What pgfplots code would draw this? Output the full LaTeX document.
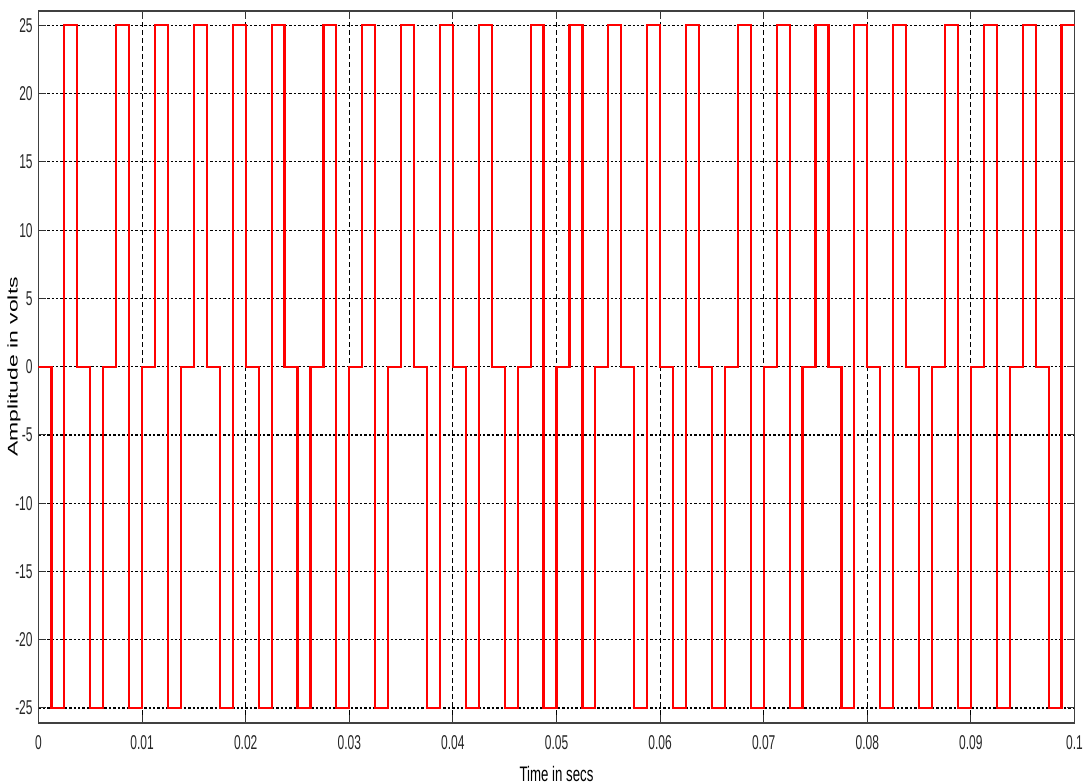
\documentclass[border=0pt]{standalone}
\usepackage{fontspec}
\setmainfont{Liberation Sans}
\newfontfamily\tickfont[FakeStretch=0.6]{Liberation Sans}
\newfontfamily\xlabfont[FakeStretch=0.63]{Liberation Sans}
\newfontfamily\ylabfont[FakeStretch=1.64]{Liberation Sans}
\usepackage{pgfplots}
\pgfplotsset{compat=1.18}

\begin{document}
\begin{tikzpicture}
\begin{axis}[
    scale only axis, width=518pt, height=356pt,
    xmin=0, xmax=0.1, ymin=-26.1, ymax=26.05,
    xtick={0,0.01,0.02,0.03,0.04,0.05,0.06,0.07,0.08,0.09,0.1},
    xticklabels={0,0.01,0.02,0.03,0.04,0.05,0.06,0.07,0.08,0.09,0.1},
    ytick={-25,-20,-15,-10,-5,0,5,10,15,20,25},
    yticklabels={-25,-20,-15,-10,-5,0,5,10,15,20,25},
    scaled x ticks=false,
    tick align=inside, major tick length=4pt,
    tick style={black!80, line width=0.5pt},
    axis line style={black!75, line width=0.6pt},
    every tick label/.append style={inner sep=0pt, text=black!85},
    tick label style={font=\tickfont\fontsize{10}{12}\selectfont},
    xticklabel style={anchor=north, yshift=-6pt},
    yticklabel style={anchor=east, xshift=-2.75pt},
    xmajorgrids, ymajorgrids,
    x grid style={black, line width=0.5pt, dash pattern=on 2.5pt off 1.5pt},
    y grid style={black, line width=0.6pt, dash pattern=on 1.2pt off 1pt},
    xlabel={Time in secs},
    xlabel style={font=\xlabfont\fontsize{10.5}{12}\selectfont, at={(axis description cs:0.5,0)}, anchor=base, yshift=-29.15pt, inner sep=0pt},
    ylabel={Amplitude in volts},
    ylabel style={font=\ylabfont\fontsize{7}{8}\selectfont, at={(axis description cs:-0.0237,0.5)}, anchor=center, inner sep=0pt},
]
\addplot[const plot, red, line width=1.1pt, line join=miter] coordinates {
(0,0) (0.00125,-25) (0.0025,25) (0.00375,0) (0.005,-25) (0.00625,0) (0.0075,25) (0.00875,-25)
(0.01,0) (0.01125,25) (0.0125,-25) (0.01375,0) (0.015,25) (0.01625,0) (0.0175,-25) (0.01875,25)
(0.02,0) (0.02125,-25) (0.0225,25) (0.02375,0) (0.025,-25) (0.02625,0) (0.0275,25) (0.02875,-25)
(0.03,0) (0.03125,25) (0.0325,-25) (0.03375,0) (0.035,25) (0.03625,0) (0.0375,-25) (0.03875,25)
(0.04,0) (0.04125,-25) (0.0425,25) (0.04375,0) (0.045,-25) (0.04625,0) (0.0475,25) (0.04875,-25)
(0.05,0) (0.05125,25) (0.0525,-25) (0.05375,0) (0.055,25) (0.05625,0) (0.0575,-25) (0.05875,25)
(0.06,0) (0.06125,-25) (0.0625,25) (0.06375,0) (0.065,-25) (0.06625,0) (0.0675,25) (0.06875,-25)
(0.07,0) (0.07125,25) (0.0725,-25) (0.07375,0) (0.075,25) (0.07625,0) (0.0775,-25) (0.07875,25)
(0.08,0) (0.08125,-25) (0.0825,25) (0.08375,0) (0.085,-25) (0.08625,0) (0.0875,25) (0.08875,-25)
(0.09,0) (0.09125,25) (0.0925,-25) (0.09375,0) (0.095,25) (0.09625,0) (0.0975,-25) (0.09875,25)
(0.1,25)
};
\end{axis}
\pgfresetboundingbox
\path[use as bounding box] ([xshift=-19.25pt,yshift=-30.15pt]current axis.south west) rectangle ([xshift=4.75pt,yshift=5.5pt]current axis.north east);
\end{tikzpicture}
\end{document}
